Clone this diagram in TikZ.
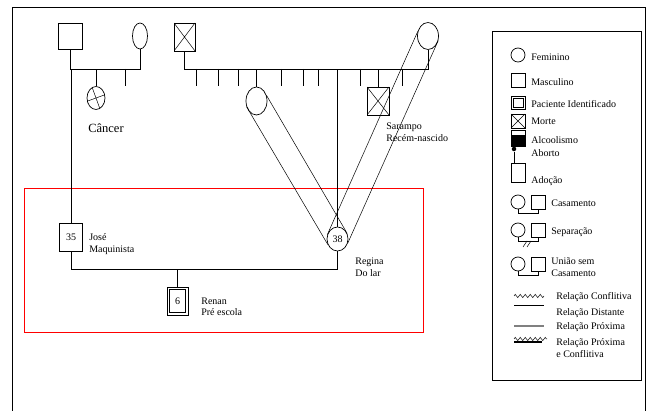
\documentclass[tikz,border=0pt]{standalone}
\usepackage{fontspec}
\setmainfont{Liberation Serif}
\usetikzlibrary{shapes.geometric,decorations.pathmorphing}

\begin{document}
\begin{tikzpicture}[x=1pt,y=-1pt,
  line width=.7pt,
  font=\fontsize{10}{11.5}\selectfont,
  homem/.style={draw,minimum width=22pt,minimum height=27pt,inner sep=0pt},
  mulher/.style={draw,ellipse,minimum width=21pt,minimum height=27pt,inner sep=0pt},
  morto/.style={homem,path picture={\draw[line width=.5pt] (path picture bounding box.north west) -- (path picture bounding box.south east)
    (path picture bounding box.north east) -- (path picture bounding box.south west);}},
  duplo/.style={path picture={\draw ([shift={(#1,-#1)}]path picture bounding box.north west)
    rectangle ([shift={(-#1,#1)}]path picture bounding box.south east);}},
  paciente/.style={homem,duplo=2.6pt,minimum width=21pt,minimum height=28pt},
  rotulo/.style={anchor=west,align=left,inner sep=0pt},
  lsimb/.style={draw,minimum size=14pt,inner sep=0pt},
  conflito/.style={decorate,decoration={zigzag,segment length=5pt,amplitude=1.6pt}}]
\useasboundingbox (0,0) rectangle (646,411);
\draw (12,411) -- (12,7) -- (645,7) -- (645,411);

\node[homem,minimum width=24pt,minimum height=26pt] (avoP) at (70,36) {};
\node[mulher,minimum width=15pt,minimum height=26pt] (avoPm) at (140,36) {};
\node[mulher,minimum width=18pt,minimum height=23pt] (tioP) at (96,98) {};
\draw[line width=.5pt] (tioP.110) -- (tioP.290) (tioP.200) -- (tioP.20);
\node[font=\fontsize{12.5}{14}\selectfont] (cancer) at (106,128) {Câncer};
\draw (avoP.south) -- ++(0,20) -| (avoPm.south);
\draw (tioP.north) -- (tioP.north |- 0,69);
\draw (125,69) -- (125,86);

\node[morto,minimum width=21pt,minimum height=28pt] (avoM) at (184.5,37) {};
\node[mulher] (avoMm) at (428,36) {};
\draw (avoM.south) -- ++(0,18) -| (avoMm.south);
\foreach \x in {196,218,238,281,303,318,360,402}
  \draw (\x,69) -- (\x,86);
\node[mulher,minimum height=28pt] (tiaM) at (256.5,101) {};
\node[morto,minimum height=28pt] (tioM) at (378,101) {};
\node[rotulo] (sarampo) at (386,132) {Sarampo\\Recém-nascido};
\draw (tiaM.north) -- (tiaM.north |- 0,69);
\draw (tioM.north) -- (tioM.north |- 0,69);

\draw[red] (24,188) rectangle (423,332);

\node[homem,minimum width=23pt,minimum height=28pt] (jose) at (71,237) {35};
\node[rotulo] (josetxt) at (89,244) {José\\Maquinista};
\node[mulher,minimum height=24pt] (regina) at (337.5,239) {38};
\node[rotulo] (reginatxt) at (355,267) {Regina\\Do lar};
\node[paciente] (renan) at (177.5,301) {6};
\node[rotulo] (renantxt) at (201,307) {Renan\\Pré escola};
\draw (jose.north) -- (jose.north |- 0,69);
\draw (regina.north) -- (regina.north |- 0,69);
\draw (jose.south) -- ++(0,18) -| (regina.south);
\draw (renan.north) -- (renan.north |- 0,269);
\draw[line width=.5pt] (tiaM.30) -- (regina.30) (tiaM.210) -- (regina.210);
\draw[line width=.5pt] (avoMm.156) -- (regina.156) (avoMm.336) -- (regina.336);

\draw[line width=.9pt] (492,31) rectangle (641,380);
\node[lsimb,circle] (lfem) at (518,55) {};
\node[rotulo] at (531,57) {Feminino};
\node[lsimb] (lmasc) at (518,80) {};
\node[rotulo] at (531,82) {Masculino};
\node[lsimb,duplo=2pt,minimum height=13pt] (lpac) at (518,103) {};
\node[rotulo] at (531,104) {Paciente Identificado};
\node[lsimb,path picture={\draw[line width=.5pt] (path picture bounding box.north west) -- (path picture bounding box.south east)
    (path picture bounding box.north east) -- (path picture bounding box.south west);}] (lmorte) at (518,121) {};
\node[rotulo] at (531,121) {Morte};
\node[lsimb,minimum height=16pt,path picture={\fill ([yshift=-5pt]path picture bounding box.north west) rectangle (path picture bounding box.south east);}] (lalc) at (518,138) {};
\node[rotulo] at (531,140) {Alcoolismo};
\node[fill,circle,inner sep=1.6pt] (labo) at (514,149) {};
\node[rotulo] at (531,153) {Aborto};
\node[lsimb,minimum height=19pt] (lado) at (518,173) {};
\draw (labo) -- (labo |- lado.north);
\node[rotulo] at (531,181) {Adoção};

\node[lsimb,circle] (cf1) at (518,202) {};
\node[lsimb] (cm1) at (538,202) {};
\draw (cf1.south) -- ++(0,4) -| (cm1.south);
\node[rotulo] at (551,203) {Casamento};
\node[lsimb,circle] (cf2) at (518,230) {};
\node[lsimb] (cm2) at (538,230) {};
\draw (cf2.south) -- ++(0,4) -| (cm2.south);
\draw[line width=.5pt] (523,247) -- (527,241) (527,247) -- (531,241);
\node[rotulo] at (551,232) {Separação};
\node[lsimb,circle] (cf3) at (518,264) {};
\node[lsimb] (cm3) at (538,264) {};
\draw (cf3.south) -- ++(0,4) -| (cm3.south);
\node[rotulo] at (551,267) {União sem\\Casamento};

\draw[conflito,line width=.5pt] (514,296) -- (544,296);
\node[rotulo] at (556,297) {Relação Conflitiva};
\draw (514,305) -- (544,305);
\node[rotulo] at (556,313) {Relação Distante};
\draw[gray,line width=2.5pt] (514,326) -- (544,326);
\node[rotulo] at (556,327) {Relação Próxima};
\draw[line width=2pt] (514,342) -- (542,342);
\draw[conflito,line width=.5pt] (514,339) -- (547,339);
\node[rotulo] at (556,348) {Relação Próxima\\e Conflitiva};
\end{tikzpicture}
\end{document}
